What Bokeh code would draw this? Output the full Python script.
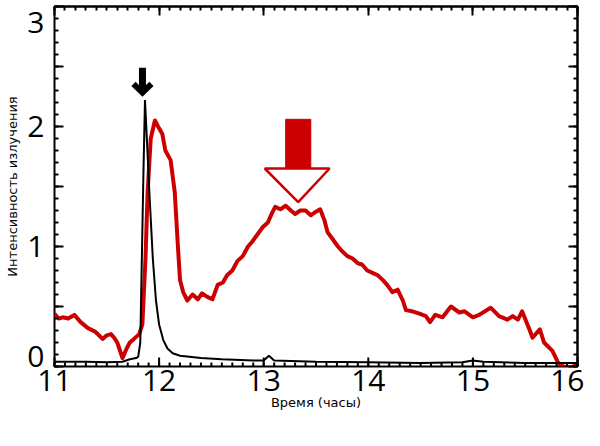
import math
from bokeh.plotting import figure
from bokeh.models import LinearAxis, FixedTicker, Range1d, CustomJSTickFormatter
from bokeh.embed import file_html
from bokeh.resources import INLINE

# ---- data ----
red_t = [11.00, 11.04, 11.08, 11.13, 11.19, 11.25, 11.32, 11.39, 11.46, 11.50,
         11.54, 11.57, 11.60, 11.65, 11.69, 11.72, 11.76, 11.81, 11.84, 11.87,
         11.89, 11.92, 11.96, 11.99, 12.03, 12.06, 12.11, 12.15, 12.18, 12.20,
         12.23, 12.27, 12.32, 12.37, 12.41, 12.46, 12.51, 12.56, 12.61, 12.65,
         12.70, 12.75, 12.80, 12.85, 12.89, 12.94, 12.99, 13.04, 13.08, 13.11,
         13.16, 13.21, 13.26, 13.30, 13.35, 13.40, 13.45, 13.50, 13.54, 13.58,
         13.61, 13.66, 13.71, 13.75, 13.80, 13.85, 13.90, 13.94, 13.99, 14.04,
         14.09, 14.14, 14.18, 14.23, 14.28, 14.33, 14.36, 14.42, 14.49, 14.55,
         14.59, 14.64, 14.71, 14.79, 14.87, 14.92, 15.00, 15.06, 15.17, 15.25,
         15.33, 15.38, 15.43, 15.47, 15.54, 15.57, 15.64, 15.68, 15.76, 15.81,
         15.84, 15.90, 15.95, 16.00]
red_v = [0.44, 0.40, 0.41, 0.40, 0.43, 0.37, 0.32, 0.29, 0.23, 0.26,
         0.27, 0.24, 0.20, 0.07, 0.15, 0.20, 0.23, 0.27, 0.35, 0.90,
         1.45, 1.90, 2.05, 2.00, 1.94, 1.80, 1.72, 1.45, 1.00, 0.72,
         0.62, 0.55, 0.60, 0.56, 0.61, 0.58, 0.56, 0.68, 0.70, 0.76,
         0.80, 0.88, 0.92, 1.00, 1.04, 1.10, 1.16, 1.20, 1.28, 1.33,
         1.31, 1.34, 1.30, 1.27, 1.30, 1.30, 1.26, 1.29, 1.31, 1.22,
         1.12, 1.06, 1.00, 0.96, 0.92, 0.90, 0.86, 0.85, 0.80, 0.78,
         0.76, 0.72, 0.68, 0.62, 0.64, 0.55, 0.47, 0.46, 0.44, 0.42,
         0.37, 0.43, 0.41, 0.50, 0.45, 0.46, 0.41, 0.43, 0.49, 0.42,
         0.39, 0.42, 0.39, 0.46, 0.31, 0.24, 0.31, 0.20, 0.13, 0.04,
         0.01, -0.01, -0.005, 0.02]

black_t = [11.00, 11.30, 11.50, 11.65, 11.72, 11.78, 11.80, 11.82, 11.835, 11.85,
           11.865, 11.88, 11.91, 11.94, 11.97, 12.00, 12.04, 12.08, 12.13, 12.20,
           12.40, 12.60, 12.90, 13.00, 13.05, 13.10, 13.50, 14.00, 14.50, 14.90,
           15.00, 15.10, 15.50, 16.00]
black_v = [0.04, 0.04, 0.035, 0.04, 0.06, 0.07, 0.08, 0.20, 0.90, 1.60,
           2.22, 1.95, 1.40, 0.90, 0.55, 0.35, 0.22, 0.15, 0.11, 0.09,
           0.07, 0.06, 0.05, 0.05, 0.09, 0.05, 0.04, 0.035, 0.03, 0.035,
           0.05, 0.04, 0.03, 0.03]

# annotation arrows (data coordinates)
black_arrow_shaft_x = [11.841, 11.841]
black_arrow_shaft_y = [2.49, 2.30]
black_arrow_head_x = [11.755, 11.841, 11.927]
black_arrow_head_y = [2.355, 2.282, 2.355]

red_arrow_shaft = dict(left=[13.21], right=[13.45], top=[2.06], bottom=[1.65])
red_arrow_head_x = [13.01, 13.63, 13.33]
red_arrow_head_y = [1.65, 1.65, 1.37]

# axes / ticks
x_major = [11, 12, 13, 14, 15, 16]
x_minor = [round(11 + 0.1 * i, 1) for i in range(51)]
x_label_pos = [11.0, 12.0, 13.0, 14.0, 15.0, 15.93]
x_labels = ["11", "12", "13", "14", "15", "16"]
y_major = [0, 0.5, 1, 1.5, 2, 2.5, 3]
y_minor = [round(0.1 * i, 1) for i in range(31)]
y_label_pos = [0.08, 1.0, 2.0, 2.87]
y_labels = ["0", "1", "2", "3"]

RED = "#cc0000"
TICK_FONT = "Open Sans"
LABEL_FONT = "DejaVu Sans"
MAJOR_LEN = 9
MINOR_LEN = 4

p = figure(width=584, height=430, x_range=Range1d(11, 16), y_range=Range1d(0, 3),
           output_backend="svg", toolbar_location=None,
           x_axis_location="below", y_axis_location="left",
           min_border_left=54, min_border_right=7, min_border_top=6, min_border_bottom=64)
p.grid.visible = False
p.outline_line_color = "black"
p.outline_line_width = 2
p.background_fill_color = "white"
p.border_fill_color = "white"

blank = CustomJSTickFormatter(code="return ''")


def tick_axis(ticks, minor):
    ax = LinearAxis(ticker=FixedTicker(ticks=ticks, minor_ticks=minor), formatter=blank)
    ax.axis_line_width = 2
    ax.axis_line_color = "black"
    ax.major_tick_in = MAJOR_LEN
    ax.major_tick_out = 0
    ax.minor_tick_in = MINOR_LEN
    ax.minor_tick_out = 0
    ax.major_tick_line_width = 2
    ax.minor_tick_line_width = 2
    ax.major_tick_line_color = "black"
    ax.minor_tick_line_color = "black"
    ax.major_label_text_font_size = "1px"
    ax.major_label_standoff = 0
    return ax


def setup_label_axis(ax, pos, labels, title, standoff, title_standoff):
    ax.ticker = FixedTicker(ticks=pos, minor_ticks=[])
    ax.formatter = CustomJSTickFormatter(args=dict(pos=pos, lab=labels), code="""
        for (let i = 0; i < pos.length; i++) {
            if (Math.abs(pos[i] - tick) < 1e-6) { return lab[i]; }
        }
        return '';
    """)
    ax.background_fill_color = None
    ax.axis_line_color = None
    ax.major_tick_line_color = None
    ax.minor_tick_line_color = None
    ax.major_tick_in = 0
    ax.major_tick_out = 0
    ax.minor_tick_in = 0
    ax.minor_tick_out = 0
    ax.major_label_text_font = TICK_FONT
    ax.major_label_text_font_size = "30px"
    ax.major_label_text_color = "black"
    ax.major_label_standoff = standoff
    ax.axis_label = title
    ax.axis_label_text_font = LABEL_FONT
    ax.axis_label_text_font_size = "13px"
    ax.axis_label_text_font_style = "normal"
    ax.axis_label_text_color = "black"
    ax.axis_label_standoff = title_standoff


setup_label_axis(p.yaxis[0], y_label_pos, y_labels, "Интенсивность излучения", 10, 4)
setup_label_axis(p.xaxis[0], x_label_pos, x_labels, "Время (часы)", 3, 1)
p.add_layout(tick_axis(y_major, y_minor), "right")
p.add_layout(tick_axis(x_major, x_minor), "above")

p.line(red_t, red_v, line_color=RED, line_width=4, line_join="round")
p.line(black_t, black_v, line_color="black", line_width=2)

# inward tick marks along the left and bottom frame edges, from the tick arrays
y0 = p.y_range.start
x0 = p.x_range.start
tick_style = dict(length_units="screen", line_color="black", line_width=2, level="overlay")
p.ray(x=[x0] * len(y_minor), y=y_minor, length=MINOR_LEN, angle=0, **tick_style)
p.ray(x=[x0] * len(y_major), y=y_major, length=MAJOR_LEN, angle=0, **tick_style)
p.ray(x=x_minor, y=[y0] * len(x_minor), length=MINOR_LEN, angle=math.pi / 2, **tick_style)
p.ray(x=x_major, y=[y0] * len(x_major), length=MAJOR_LEN, angle=math.pi / 2, **tick_style)

# black arrow
p.line(black_arrow_shaft_x, black_arrow_shaft_y, line_color="black", line_width=7)
p.line(black_arrow_head_x, black_arrow_head_y, line_color="black", line_width=6, line_join="miter")

# red hollow arrow
p.quad(left=red_arrow_shaft["left"], right=red_arrow_shaft["right"],
       top=red_arrow_shaft["top"], bottom=red_arrow_shaft["bottom"],
       fill_color=RED, line_color=RED)
p.patch(red_arrow_head_x, red_arrow_head_y, fill_color="white", line_color=RED, line_width=2.5)

open("out.html", "w").write(file_html(p, INLINE))
